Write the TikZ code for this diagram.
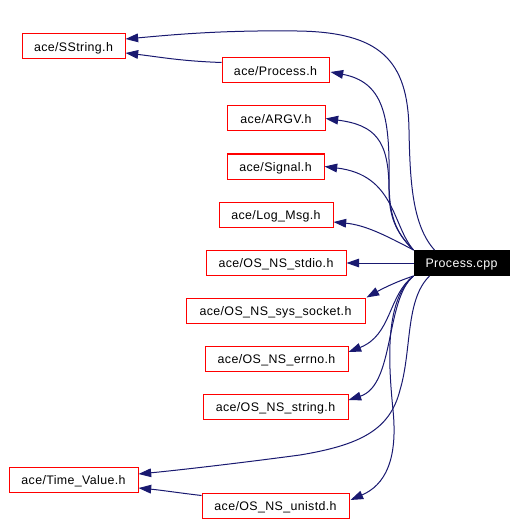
\documentclass[tikz,border=0pt]{standalone}
\usepackage{fontspec}
\setmainfont{Liberation Sans}
\newfontfamily\lblfont{Liberation Sans}[LetterSpace=3]
\usetikzlibrary{arrows.meta,calc}
\definecolor{edgeblue}{HTML}{191970}
\tikzset{
  hbox/.style={draw=red, line width=0.75pt, inner sep=0pt, minimum height=25*0.75pt,
    minimum width=#1*0.75pt, text height=7.6pt, text depth=0.8pt,
    font=\lblfont\fontsize{9.3pt}{11pt}\selectfont},
  rootbox/.style={hbox=#1, draw=black, fill=black, text=white},
  dep/.style={draw=edgeblue, line width=0.75pt, -{Triangle[length=9.5pt,width=6.5pt]}}
}
\begin{document}
\begin{tikzpicture}[x=0.75pt,y=-0.75pt]
\useasboundingbox (0,0) rectangle (516,524);
% nodes
\node[hbox=103] (sstr) at (73.5,46.5) {ace/SString.h};
\node[hbox=107] (proc) at (275.5,70.5) {ace/Process.h};
\node[hbox=98]  (argv) at (276,118.5) {ace/ARGV.h};
\node[hbox=97]  (sig)  at (275.5,166.5) {ace/Signal.h};
\node[hbox=114] (logm) at (276,214.5) {ace/Log\_Msg.h};
\node[hbox=140] (stdio) at (276,263) {ace/OS\_NS\_stdio.h};
\node[rootbox=95] (cpp) at (461.5,263) {Process.cpp};
\node[hbox=179] (sock) at (275.5,310.5) {ace/OS\_NS\_sys\_socket.h};
\node[hbox=143] (errn) at (276.5,358.5) {ace/OS\_NS\_errno.h};
\node[hbox=145] (str)  at (275.5,406.5) {ace/OS\_NS\_string.h};
\node[hbox=129] (tv)   at (73.5,480) {ace/Time\_Value.h};
\node[hbox=147] (unis) at (275.5,505.5) {ace/OS\_NS\_unistd.h};
% edges
\draw[dep] ($(cpp.north west)+(21,0)$) .. controls (412,225) and (410,180) .. (409,130)
  .. controls (408,60) and (380,32) .. (297,31)
  .. controls (220,30) and (170,35) .. ($(sstr.east)+(0,-7.5)$);
\draw[dep] ($(proc.west)+(0,-8)$) .. controls (180,61) and (160,57) .. ($(sstr.east)+(0,6.5)$);
\draw[dep] (cpp.north west) .. controls (395,232) and (389,215) .. (389,180)
  .. controls (390,115) and (383,82) .. ($(proc.east)+(1,1.5)$);
\draw[dep] (cpp.north west) .. controls (395,232) and (389,215) .. (389,190)
  .. controls (389,140) and (375,125) .. (argv.east);
\draw[dep] (cpp.north west) .. controls (392,225) and (395,175) .. (sig.east);
\draw[dep] (cpp.north west) .. controls (385,235) and (365,225) .. ($(logm.east)+(0,7.5)$);
\draw[dep] (cpp.west) -- (stdio.east);
\draw[dep] (cpp.south west) .. controls (395,282) and (380,290) .. ($(sock.north east)+(1,0)$);
\draw[dep] (cpp.south west) .. controls (388,295) and (392,335) .. ($(errn.east)+(0,-6.5)$);
\draw[dep] (cpp.south west) .. controls (385,300) and (395,385) .. ($(str.east)+(0,-6.5)$);
\draw[dep] ($(cpp.south west)+(16,0)$) .. controls (405,300) and (412,350) .. (400,390)
  .. controls (390,430) and (360,445) .. (300,455)
  .. controls (240,463) and (180,470) .. ($(tv.east)+(0,-6)$);
\draw[dep] ($(unis.west)+(0,-10)$) .. controls (180,493) and (160,490) .. ($(tv.east)+(0,8)$);
\draw[dep] (cpp.south west) .. controls (385,300) and (388,360) .. (393,410)
  .. controls (398,460) and (385,485) .. ($(unis.east)+(1,-5.5)$);
\end{tikzpicture}
\end{document}
